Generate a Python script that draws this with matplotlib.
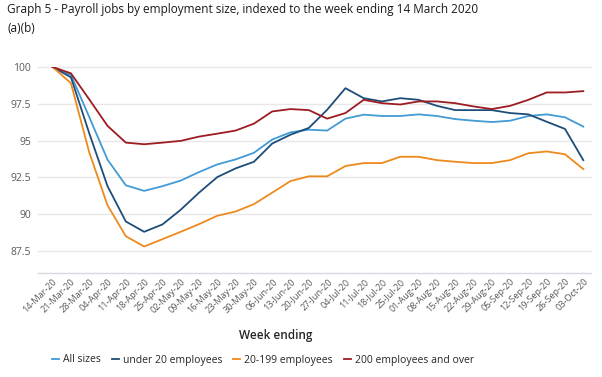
import matplotlib
matplotlib.use("Agg")
import matplotlib.pyplot as plt

plt.rcParams['font.family'] = ['Open Sans', 'DejaVu Sans']

weeks = ["14-Mar-20", "21-Mar-20", "28-Mar-20", "04-Apr-20", "11-Apr-20", "18-Apr-20",
         "25-Apr-20", "02-May-20", "09-May-20", "16-May-20", "23-May-20", "30-May-20",
         "06-Jun-20", "13-Jun-20", "20-Jun-20", "27-Jun-20", "04-Jul-20", "11-Jul-20",
         "18-Jul-20", "25-Jul-20", "01-Aug-20", "08-Aug-20", "15-Aug-20", "22-Aug-20",
         "29-Aug-20", "05-Sep-20", "12-Sep-20", "19-Sep-20", "26-Sep-20", "03-Oct-20"]

all_sizes = [100.0, 99.46, 96.6, 93.7, 91.96, 91.58, 91.9, 92.28, 92.86, 93.38,
             93.72, 94.17, 95.07, 95.56, 95.74, 95.68, 96.49, 96.76, 96.67, 96.67,
             96.78, 96.67, 96.46, 96.35, 96.26, 96.35, 96.67, 96.78, 96.58, 95.95]
under_20 = [100.0, 99.3, 95.5, 91.9, 89.5, 88.8, 89.3, 90.3, 91.46, 92.52,
            93.11, 93.56, 94.8, 95.4, 95.86, 97.09, 98.56, 97.88, 97.66, 97.88,
            97.77, 97.36, 97.07, 97.07, 97.07, 96.87, 96.78, 96.28, 95.79, 93.67]
emp_20_199 = [100.0, 98.9, 94.2, 90.6, 88.5, 87.8, 88.3, 88.8, 89.32, 89.89,
              90.18, 90.68, 91.46, 92.25, 92.57, 92.57, 93.27, 93.47, 93.47, 93.9,
              93.9, 93.67, 93.56, 93.47, 93.47, 93.67, 94.14, 94.26, 94.07, 93.06]
emp_200_over = [100.0, 99.57, 97.8, 96.0, 94.86, 94.75, 94.86, 94.98, 95.27, 95.47,
                95.68, 96.15, 96.98, 97.14, 97.07, 96.49, 96.87, 97.77, 97.54, 97.45,
                97.66, 97.66, 97.54, 97.32, 97.14, 97.36, 97.77, 98.27, 98.27, 98.36]

series_names = ["All sizes", "under 20 employees", "20-199 employees", "200 employees and over"]
colors = ["#419bd5", "#1d4d78", "#ee8a1c", "#9c1c22"]
yticks = [87.5, 90, 92.5, 95, 97.5, 100]
ytick_labels = ["87.5", "90", "92.5", "95", "97.5", "100"]

fig = plt.figure(figsize=(6.02, 3.77), dpi=100)
ax = fig.add_axes([38/602, 1-273/377, (591-38)/602, (273-67)/377])

x = list(range(len(weeks)))
for vals, name, c in zip([all_sizes, under_20, emp_20_199, emp_200_over], series_names, colors):
    ax.plot(x, vals, color=c, lw=1.3, label=name, zorder=3)

ax.set_ylim(86, 100)
ax.set_xlim(-0.8, len(weeks) - 1 + 0.42)
ax.set_yticks(yticks)
ax.set_yticklabels(ytick_labels)
for yv in yticks:
    ax.axhline(yv, color="#e8e8e8", lw=1.0, zorder=1, clip_on=False)
for s in ["top", "right", "left"]:
    ax.spines[s].set_visible(False)
ax.spines["bottom"].set_color("#d6dbe3")
ax.spines["bottom"].set_linewidth(1.0)
ax.tick_params(axis="y", length=0, pad=5, labelsize=7.5, labelcolor="#595959")
ax.tick_params(axis="x", length=0, pad=3, labelsize=6.6, labelcolor="#595959")
ax.set_xticks(x)
ax.set_xticklabels(weeks, rotation=45, ha="right", rotation_mode="anchor")

fig.text(276/602, 1-335/377, "Week ending", ha="center", va="center", fontsize=8.5,
         color="#262626", fontweight="semibold")

fig.text(7/602, 1-10/377, "Graph 5 - Payroll jobs by employment size, indexed to the week ending 14 March 2020",
         ha="left", va="center", fontsize=8.5, color="#1a1a1a")
fig.text(7/602, 1-29/377, "(a)(b)", ha="left", va="center", fontsize=8.5, color="#1a1a1a")

leg = fig.legend(loc="center", bbox_to_anchor=(263/602, 1-360/377), ncol=4, frameon=False,
                 fontsize=7.5, handlelength=0.7, handletextpad=0.4, columnspacing=1.0)
for t in leg.get_texts():
    t.set_color("#262626")

fig.savefig("out.png", dpi=100)
